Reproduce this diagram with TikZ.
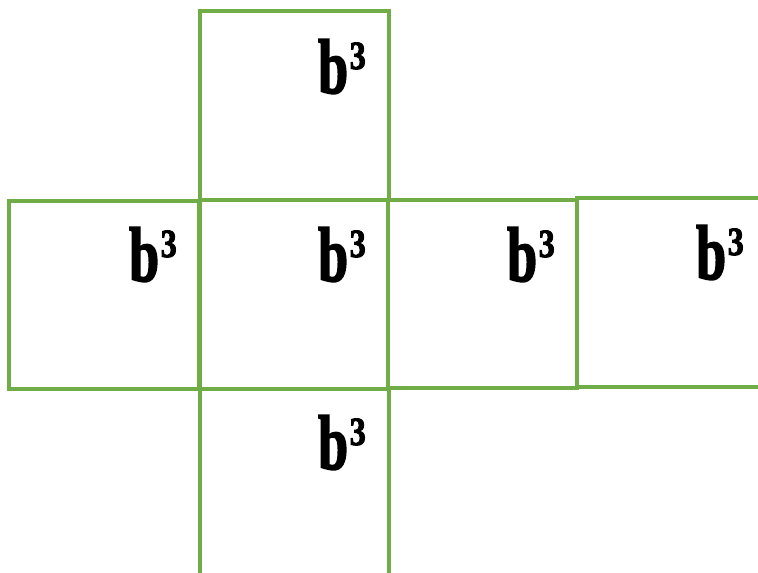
\documentclass[tikz,border=0pt]{standalone}
\usepackage{fontspec}
\setmainfont{Liberation Serif}[BoldFeatures={FakeBold=2.5}]
\definecolor{netgreen}{HTML}{70AD47}
\newcommand\bcubelabel{\scalebox{0.70}[1]{\fontsize{58}{58}\selectfont\bfseries b}\kern1.2pt\raisebox{18pt}{\scalebox{0.8}[1]{\fontsize{30}{30}\selectfont\bfseries 3}}}
\begin{document}
\begin{tikzpicture}[x=0.75pt,y=-0.75pt]
\tikzset{face/.style={draw=netgreen,line width=2.5pt},
  lbl/.style={anchor=base east,inner sep=0pt}}
\useasboundingbox (0,0) rectangle (758,573);
% faces of the net
\draw[face] (200,11) rectangle (389,200);
\draw[face] (9,201) rectangle (199,389);
\draw[face] (200,200) rectangle (388,389);
\draw[face] (388,200) rectangle (577,388);
\draw[face] (758,198) -- (577,198) -- (577,387) -- (758,387);
\draw[face] (200,573) -- (200,389) -- (389,389) -- (389,573);
% labels
\node[lbl] (ltop) at (366,93) {\bcubelabel};
\node[lbl] (lleft) at (177,281) {\bcubelabel};
\node[lbl] (lcenter) at (366,281) {\bcubelabel};
\node[lbl] (lright) at (555,281) {\bcubelabel};
\node[lbl] (lfar) at (744,279) {\bcubelabel};
\node[lbl] (lbottom) at (366,469) {\bcubelabel};
\end{tikzpicture}
\end{document}
